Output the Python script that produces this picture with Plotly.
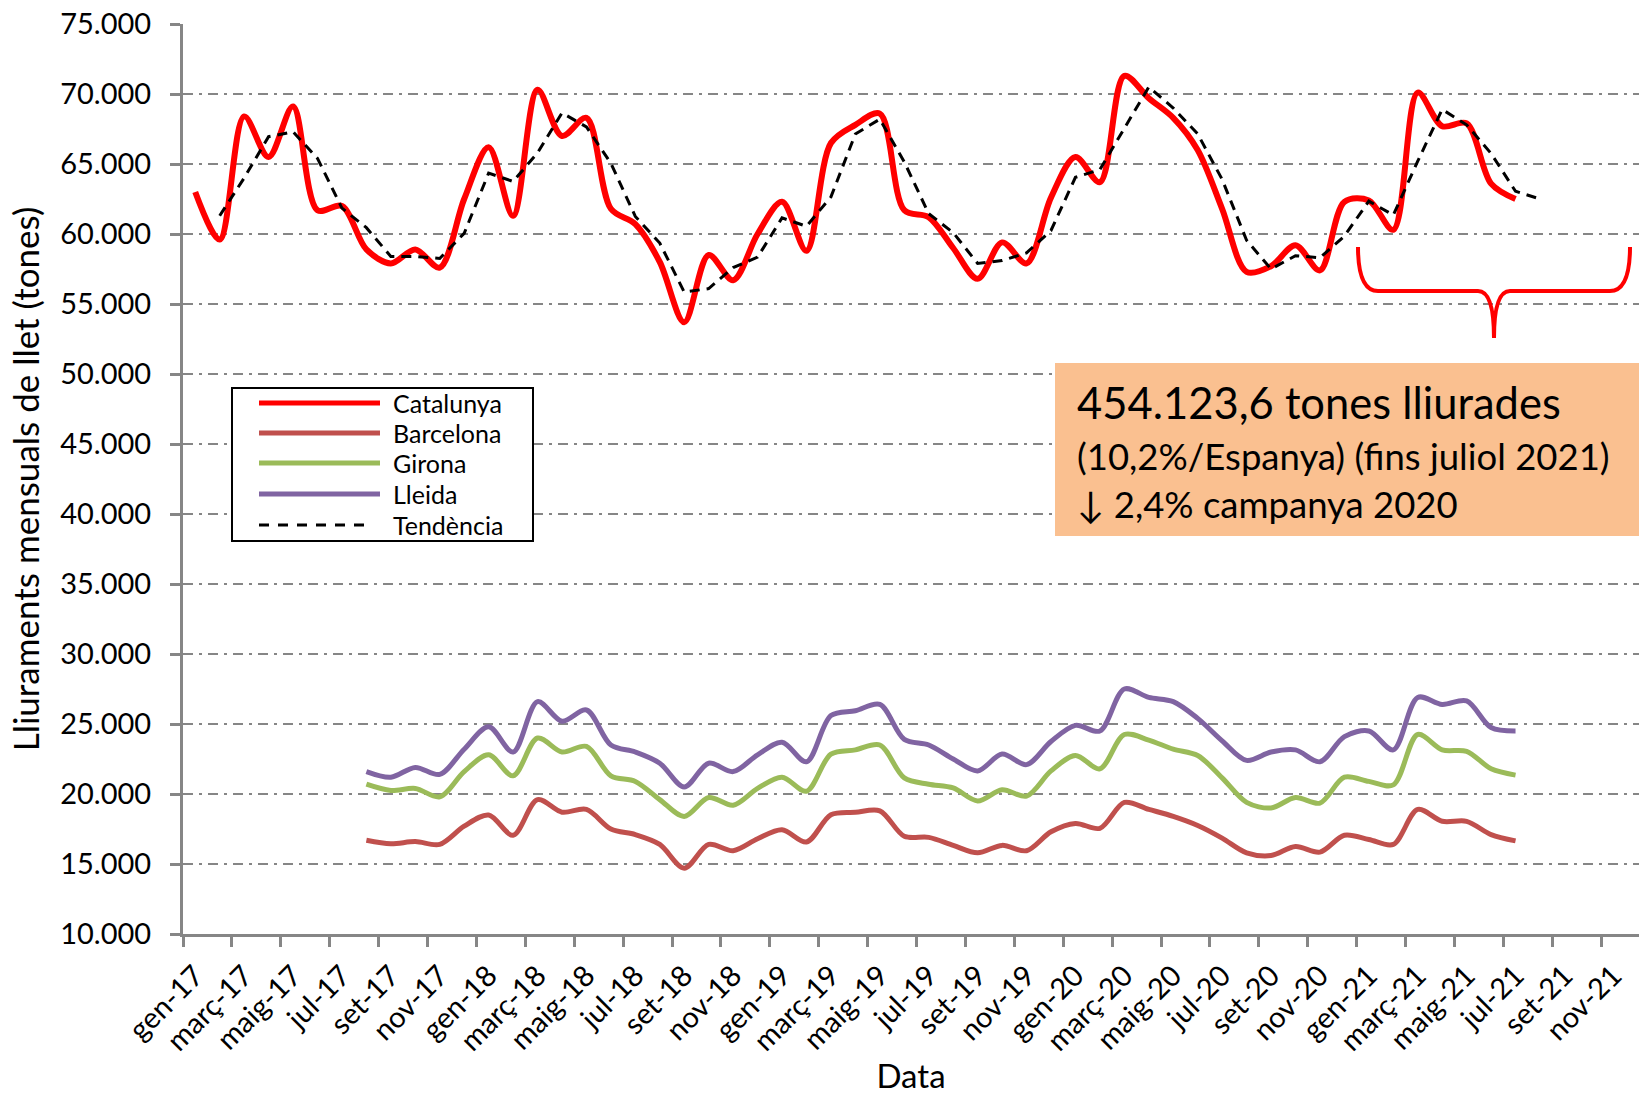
import plotly.graph_objects as go

# ---------------- data ----------------
years = ["17", "18", "19", "20", "21"]
label_months = ["gen", "març", "maig", "jul", "set", "nov"]

# month index 0 = gen-17 ... 59 = des-21
catalunya = [63000, 59600, 68400, 65500, 69100, 61700, 62000, 58900, 57900, 58900,
             57600, 62500, 66200, 61300, 70300, 67000, 68300, 61800, 60700, 58000,
             53700, 58500, 56700, 60000, 62300, 58800, 66500, 67800, 68600, 61700,
             61200, 59000, 56800, 59400, 57900, 62600, 65500, 63700, 71300, 69700,
             68300, 66000, 61800, 57300, 57700, 59200, 57400, 62300, 62400, 60300,
             70100, 67700, 67900, 63600, 62500]

# regional series start at ag-17 (index 7)
reg_start = 7
barcelona = [16700, 16450, 16600, 16400, 17700, 18500, 17050, 19600, 18700, 18900,
             17500, 17100, 16400, 14700, 16400, 15950, 16800, 17450, 16570, 18520,
             18690, 18800, 16980, 16900, 16330, 15800, 16330, 15950, 17300, 17900,
             17550, 19400, 18900, 18400, 17750, 16850, 15800, 15600, 16250, 15850,
             17050, 16750, 16400, 18900, 18050, 18050, 17100, 16650]
girona = [20700, 20250, 20400, 19800, 21600, 22800, 21300, 24000, 23000, 23400,
          21300, 20900, 19600, 18400, 19750, 19200, 20400, 21200, 20200, 22850,
          23150, 23500, 21150, 20700, 20430, 19500, 20300, 19850, 21650, 22750,
          21800, 24250, 23850, 23200, 22750, 21150, 19400, 19000, 19750, 19350,
          21200, 20900, 20650, 24250, 23150, 23050, 21800, 21350]
lleida = [21600, 21200, 21900, 21400, 23200, 24800, 23000, 26600, 25200, 26000,
          23500, 23000, 22200, 20500, 22200, 21600, 22800, 23700, 22300, 25600,
          25950, 26400, 23900, 23500, 22500, 21650, 22850, 22100, 23750, 24900,
          24500, 27500, 26900, 26600, 25400, 23800, 22400, 23000, 23150, 22300,
          24100, 24500, 23150, 26900, 26400, 26650, 24750, 24500]

# trend (2-month moving average), starts at febr-17 (index 1)
trend_start = 1
tendencia = [61300, 64000, 66950, 67300, 65400, 61850, 60450, 58400, 58400, 58250,
             60050, 64350, 63750, 65800, 68650, 67650, 65050, 61250, 59350, 55850,
             56100, 57600, 58350, 61150, 60550, 62650, 67150, 68200, 65150, 61450,
             60100, 57900, 58100, 58650, 60250, 64050, 64600, 67500, 70500, 69000,
             67150, 63900, 59550, 57500, 58450, 58300, 59850, 62350, 61350, 65200,
             68900, 67800, 65750, 63050, 62500]

tick_labels = [f"{m}-{y}" for y in years for m in label_months]
tick_vals = list(range(0, 60, 2))

series_names = ["Catalunya", "Barcelona", "Girona", "Lleida", "Tendència"]
series_colors = ["#FF0000", "#C0504D", "#9BBB59", "#8064A2", "#000000"]

box_lines = ["454.123,6 tones lliurades",
             "(10,2%/Espanya) (fins juliol 2021)",
             "↓ 2,4% campanya 2020"]

FONT = "Lato"
GRAY = "#868686"

# ---------------- figure ----------------
W, H = 1639, 1095
L, R, T, B = 183, 0, 24, 161

fig = go.Figure()

def idx(start, n):
    return list(range(start, start + n))

fig.add_trace(go.Scatter(x=idx(reg_start, len(barcelona)), y=barcelona, mode="lines",
                         name="Barcelona", line=dict(color=series_colors[1], width=5,
                         shape="spline", smoothing=0.9), showlegend=False))
fig.add_trace(go.Scatter(x=idx(reg_start, len(girona)), y=girona, mode="lines",
                         name="Girona", line=dict(color=series_colors[2], width=5,
                         shape="spline", smoothing=0.9), showlegend=False))
fig.add_trace(go.Scatter(x=idx(reg_start, len(lleida)), y=lleida, mode="lines",
                         name="Lleida", line=dict(color=series_colors[3], width=5,
                         shape="spline", smoothing=0.9), showlegend=False))
fig.add_trace(go.Scatter(x=idx(0, len(catalunya)), y=catalunya, mode="lines",
                         name="Catalunya", line=dict(color=series_colors[0], width=6,
                         shape="spline", smoothing=0.9), showlegend=False))
fig.add_trace(go.Scatter(x=idx(trend_start, len(tendencia)), y=tendencia, mode="lines",
                         name="Tendència", line=dict(color="#000000", width=3,
                         dash="10px,7px"), showlegend=False))

fig.update_layout(
    width=W, height=H,
    margin=dict(l=L, r=R, t=T, b=B, pad=0, autoexpand=False),
    paper_bgcolor="white", plot_bgcolor="white",
    separators=",.",
    font=dict(family=FONT, color="#000000", size=28),
    showlegend=False,
)

fig.update_xaxes(
    range=[-0.5, 59.05], automargin=False,
    tickmode="array", tickvals=tick_vals, ticktext=tick_labels,
    tickangle=-45, ticks="", tickfont=dict(size=29, family=FONT),
    ticklabelstandoff=10,
    showgrid=False, zeroline=False,
    showline=True, linecolor=GRAY, linewidth=3,
    minor=dict(tick0=-0.5, dtick=2, ticks="outside", ticklen=10,
               tickcolor=GRAY, tickwidth=3, showgrid=False),
    title=dict(text="Data", font=dict(size=33, family=FONT), standoff=18),
)
fig.update_yaxes(
    range=[10000, 75000], dtick=5000, tick0=10000, tickformat=",d", automargin=False,
    ticks="outside", ticklen=10, tickcolor=GRAY, tickwidth=3,
    tickfont=dict(size=29, family=FONT), ticklabelstandoff=13,
    showgrid=True, gridcolor=GRAY, gridwidth=2, griddash="10px,6px,3px,6px",
    zeroline=False, showline=True, linecolor=GRAY, linewidth=3,
    title=dict(text="Lliuraments mensuals de llet (tones)",
               font=dict(size=35, family=FONT), standoff=10),
)

# ---- helpers to place decorations in pixel terms ----
pw, ph = W - L - R, H - T - B
def px_x(x):
    return (x - L) / pw
def px_y(y):
    return 1 - (y - T) / ph

# ---- manual legend (Excel style, long line samples) ----
shapes = []
annotations = []
shapes.append(dict(type="rect", xref="paper", yref="paper",
                   x0=px_x(232), x1=px_x(533), y0=px_y(541), y1=px_y(388),
                   line=dict(color="#000000", width=2), fillcolor="white", layer="above"))
leg_y = [403, 433, 463, 494, 525]
for name, col, yy in zip(series_names, series_colors, leg_y):
    if name == "Tendència":
        shapes.append(dict(type="line", xref="paper", yref="paper",
                           x0=px_x(259), x1=px_x(370), y0=px_y(yy), y1=px_y(yy),
                           line=dict(color=col, width=3, dash="10px,9px"), layer="above"))
    else:
        shapes.append(dict(type="line", xref="paper", yref="paper",
                           x0=px_x(259), x1=px_x(380), y0=px_y(yy), y1=px_y(yy),
                           line=dict(color=col, width=5), layer="above"))
    annotations.append(dict(xref="paper", yref="paper", x=px_x(391), y=px_y(yy),
                            text=name, showarrow=False, xanchor="left", yanchor="middle",
                            font=dict(size=25, family=FONT, color="#000000")))

# ---- orange info box ----
shapes.append(dict(type="rect", xref="paper", yref="paper",
                   x0=px_x(1055), x1=px_x(1645), y0=px_y(536), y1=px_y(363),
                   line=dict(width=0), fillcolor="#FAC090", layer="above"))
box_y = [402, 456, 504]
box_sizes = [43.5, 36.5, 36.5]
for txt, yy, sz in zip(box_lines, box_y, box_sizes):
    annotations.append(dict(xref="paper", yref="paper", x=px_x(1075), y=px_y(yy),
                            text=txt, showarrow=False, xanchor="left", yanchor="middle",
                            font=dict(size=sz, family=FONT, color="#000000")))

# ---- red curly brace under the 2021 campaign ----
def P(x, y):
    return f"{px_x(x):.5f},{px_y(y):.5f}"
brace = ("M " + P(1358, 247) + " Q " + P(1358, 291) + " " + P(1378, 291) +
         " L " + P(1478, 291) + " Q " + P(1494, 291) + " " + P(1494, 338) +
         " Q " + P(1494, 291) + " " + P(1510, 291) + " L " + P(1610, 291) +
         " Q " + P(1630, 291) + " " + P(1630, 247))
shapes.append(dict(type="path", xref="paper", yref="paper", path=brace,
                   line=dict(color="#FF0000", width=4), layer="above"))

fig.update_layout(shapes=shapes, annotations=annotations)

fig.write_html("out.html", config={"displayModeBar": False},
               post_script="document.body.style.margin='0';document.body.style.overflow='hidden';")
